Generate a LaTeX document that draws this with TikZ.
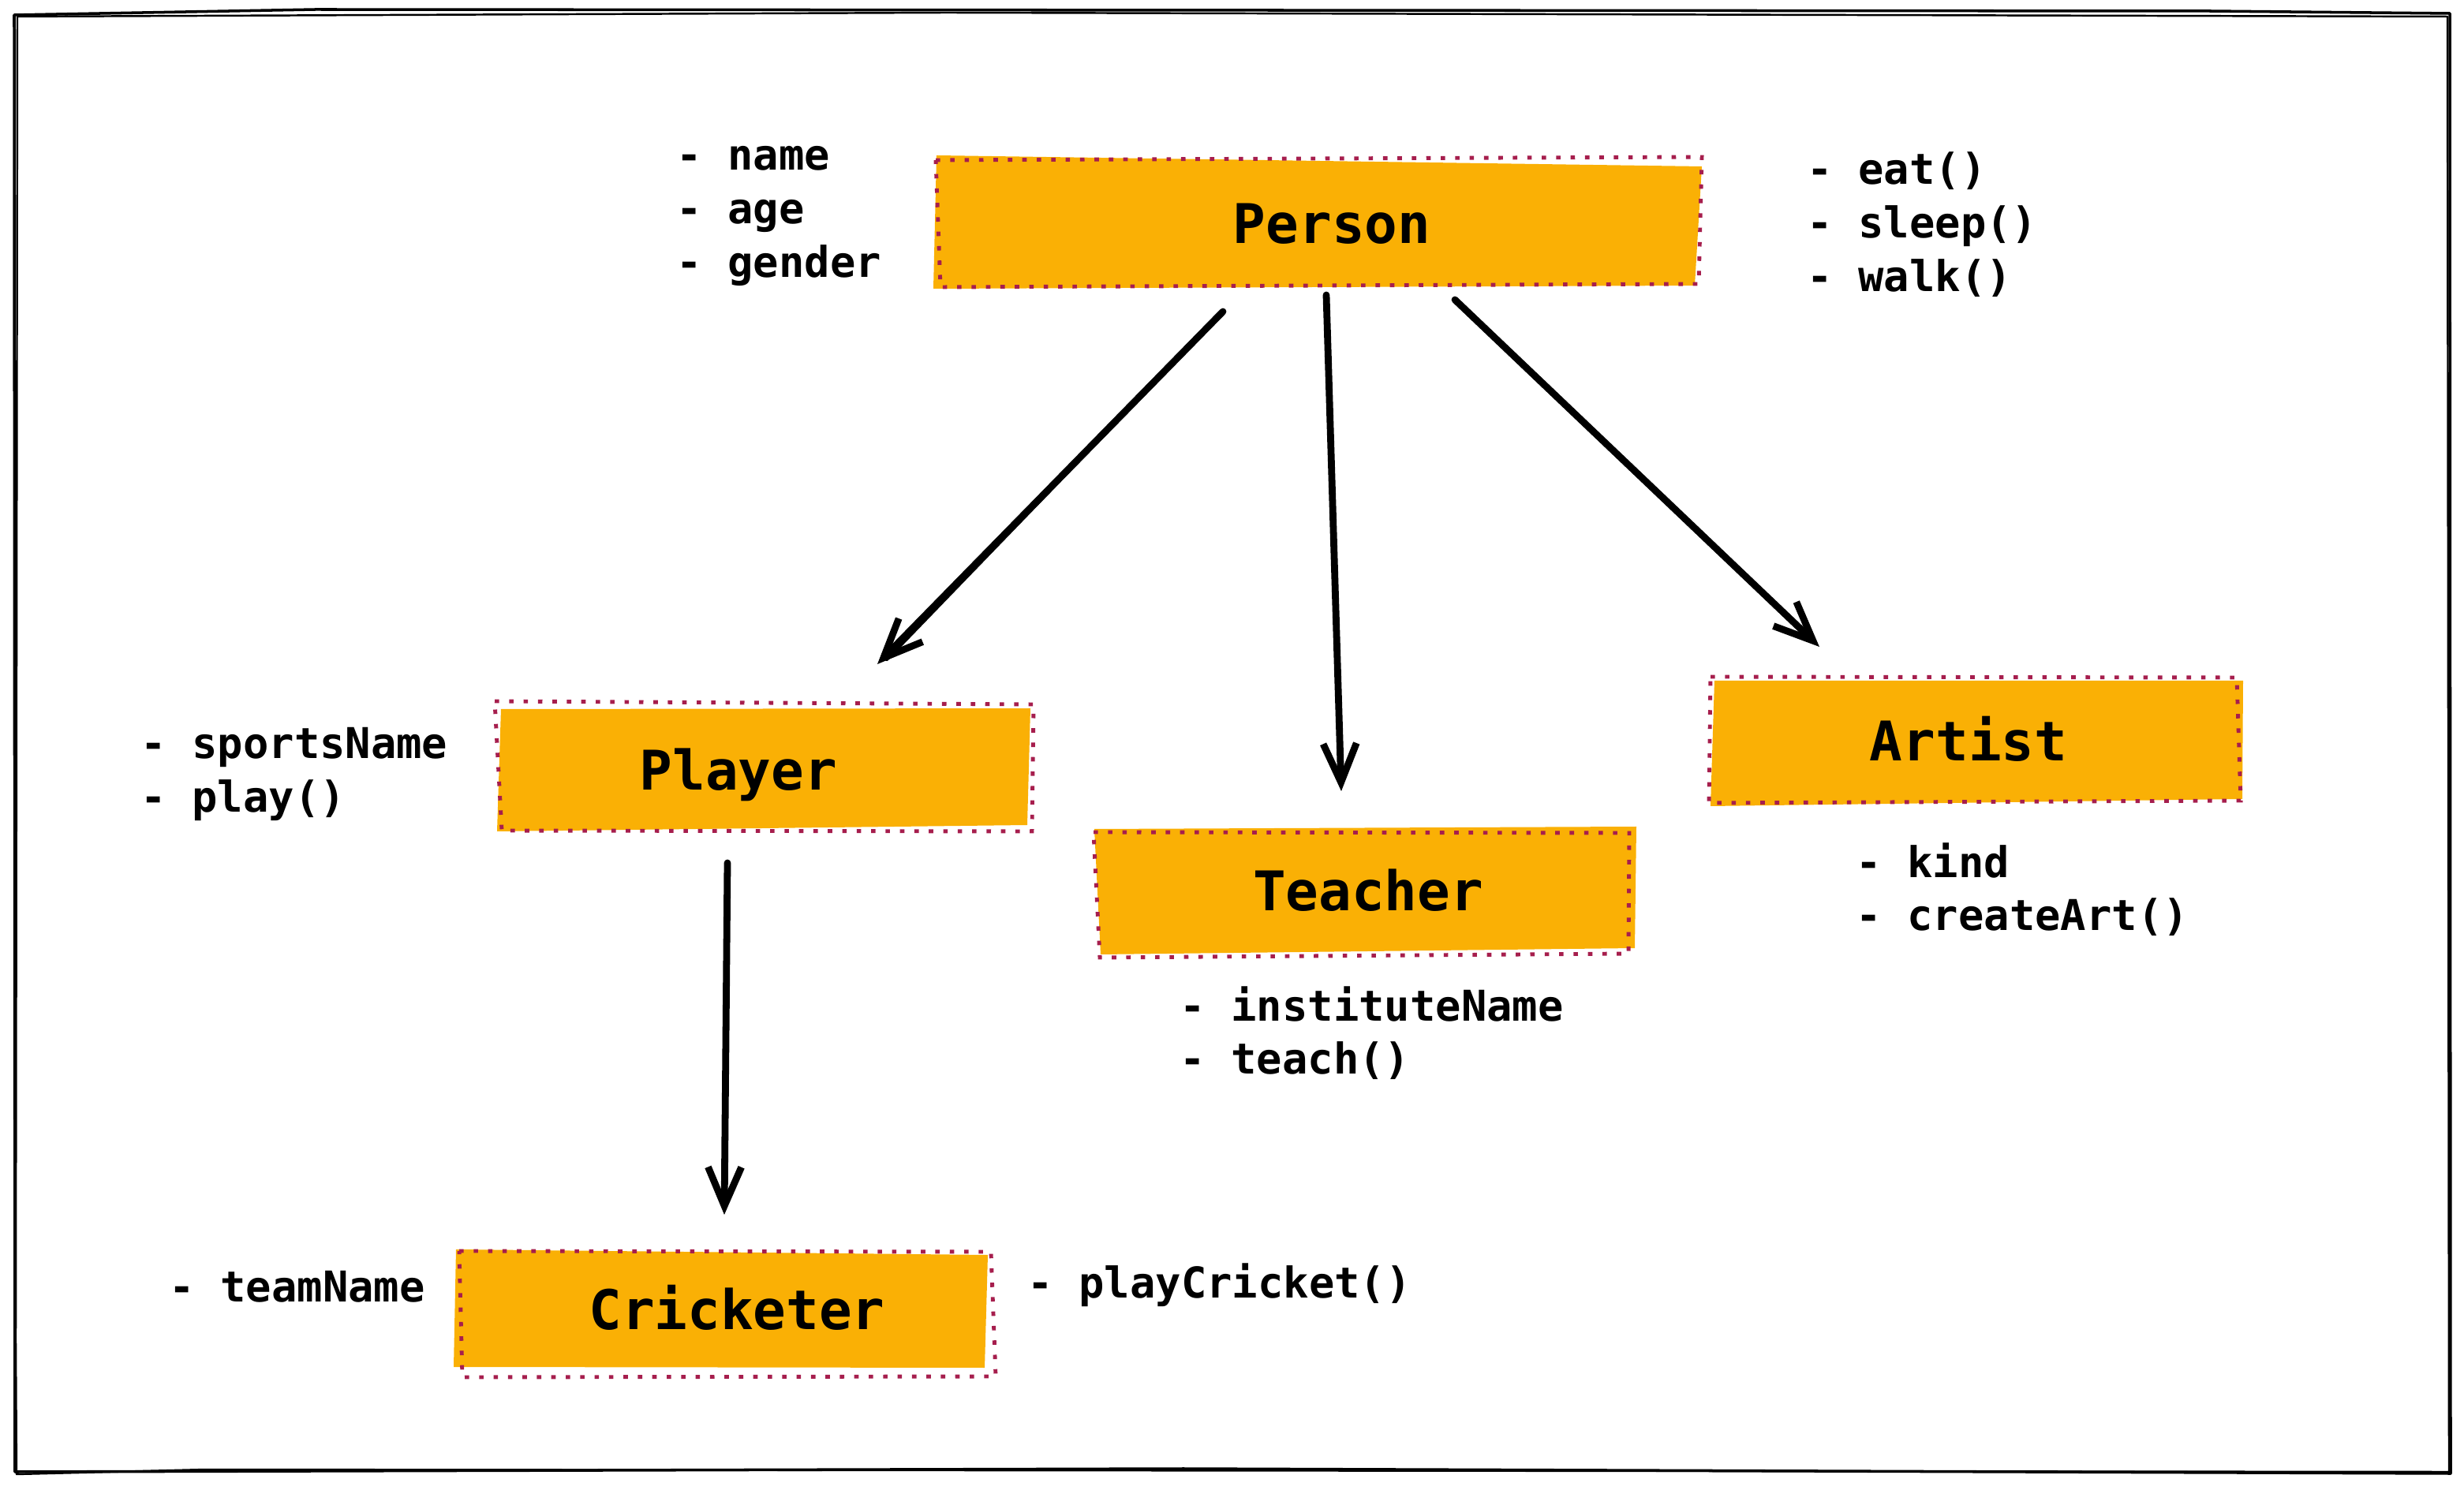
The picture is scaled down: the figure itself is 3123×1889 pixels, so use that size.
\documentclass[tikz,border=0pt]{standalone}
\usepackage{fontspec}
\newfontfamily\codefont{DejaVu Sans Mono}
\usetikzlibrary{arrows.meta}
\definecolor{boxfill}{HTML}{FAB005}
\definecolor{boxline}{HTML}{A61E4D}
\tikzset{
  lbl/.style={anchor=base west, inner sep=0pt, font=\codefont\bfseries\fontsize{15.3}{18}\selectfont},
  ttl/.style={anchor=base, inner sep=0pt, font=\codefont\bfseries\fontsize{19.7}{24}\selectfont},
  boxbg/.style={fill=boxfill, draw=none},
  boxdot/.style={draw=boxline, line width=1.4pt, dash pattern=on 1.6pt off 3.6pt},
  inh/.style={draw=black, line width=2.5pt, line cap=round, -{Straight Barb[length=14pt,width=12pt]}},
  inh2/.style={draw=black, line width=1.2pt, line cap=round},
  framelin/.style={draw=black, line width=1pt, line join=round}
}
\begin{document}
\begin{tikzpicture}[x=0.01cm,y=-0.01cm]
\useasboundingbox (0,0) rectangle (3123,1889);
% outer sketch frame
\draw[framelin] (18,19) -- (400,12) -- (2800,14) -- (3105,17) -- (3106,1868) -- (1500,1862) -- (19,1866) -- cycle;
\draw[framelin, line width=0.7pt] (22,21) -- (1200,16) -- (3102,21) -- (3104,1866) -- (260,1863) -- (21,1869) -- (20,1700) -- cycle;

% Person box
\fill[boxbg] (1187,197) -- (2157,211) -- (2148,362) -- (1183,366) -- cycle;
\draw[boxdot] (1186,203) -- (2157,199) -- (2153,360) -- (1192,364) -- cycle;
\node[ttl] (person) at (1688,309) {Person};
\node[lbl] (pa) at (857,216) {- name};
\node[lbl] (pb) at (857,284) {- age};
\node[lbl] (pc) at (857,352) {- gender};
\node[lbl] (pd) at (2290,234) {- eat()};
\node[lbl] (pe) at (2290,302) {- sleep()};
\node[lbl] (pf) at (2290,370) {- walk()};

% Player box
\fill[boxbg] (635,899) -- (1306,898) -- (1302,1046) -- (630,1054) -- cycle;
\draw[boxdot] (627,889) -- (1310,893) -- (1308,1054) -- (636,1053) -- cycle;
\node[ttl] (player) at (936,1002) {Player};
\node[lbl] (ya) at (178,962) {- sportsName};
\node[lbl] (yb) at (178,1030) {- play()};

% Teacher box
\fill[boxbg] (1387,1051) -- (2074,1048) -- (2072,1202) -- (1395,1210) -- cycle;
\draw[boxdot] (1386,1055) -- (2065,1056) -- (2064,1209) -- (1394,1214) -- cycle;
\node[ttl] (teacher) at (1734,1155) {Teacher};
\node[lbl] (ta) at (1495,1295) {- instituteName};
\node[lbl] (tb) at (1495,1362) {- teach()};

% Artist box
\fill[boxbg] (2173,863) -- (2843,863) -- (2842,1013) -- (2168,1022) -- cycle;
\draw[boxdot] (2168,858) -- (2835,859) -- (2840,1015) -- (2166,1018) -- cycle;
\node[ttl] (artist) at (2495,965) {Artist};
\node[lbl] (aa) at (2352,1113) {- kind};
\node[lbl] (ab) at (2352,1180) {- createArt()};

% Cricketer box
\fill[boxbg] (578,1584) -- (1252,1591) -- (1248,1734) -- (575,1733) -- cycle;
\draw[boxdot] (582,1586) -- (1256,1587) -- (1262,1745) -- (586,1746) -- cycle;
\node[ttl] (cricketer) at (934,1685) {Cricketer};
\node[lbl] (ca) at (214,1650) {- teamName};
\node[lbl] (cb) at (1302,1645) {- playCricket()};

% connectors
\coordinate (pp1) at (1550,395);  \coordinate (pp2) at (1112,842);
\coordinate (pt1) at (1681,374);  \coordinate (pt2) at (1700,1003);
\coordinate (pa1) at (1844,380);  \coordinate (pa2) at (2306,820);
\coordinate (pc1) at (922,1094);  \coordinate (pc2) at (918,1540);
\coordinate (pp3) at (1124,836);
\draw[inh] (pp1) -- (pp2);
\draw[inh2] (pp1) -- (pp3);
\draw[inh] (pt1) -- (pt2);
\draw[inh] (pa1) -- (pa2);
\draw[inh] (pc1) -- (pc2);
\end{tikzpicture}
\end{document}
